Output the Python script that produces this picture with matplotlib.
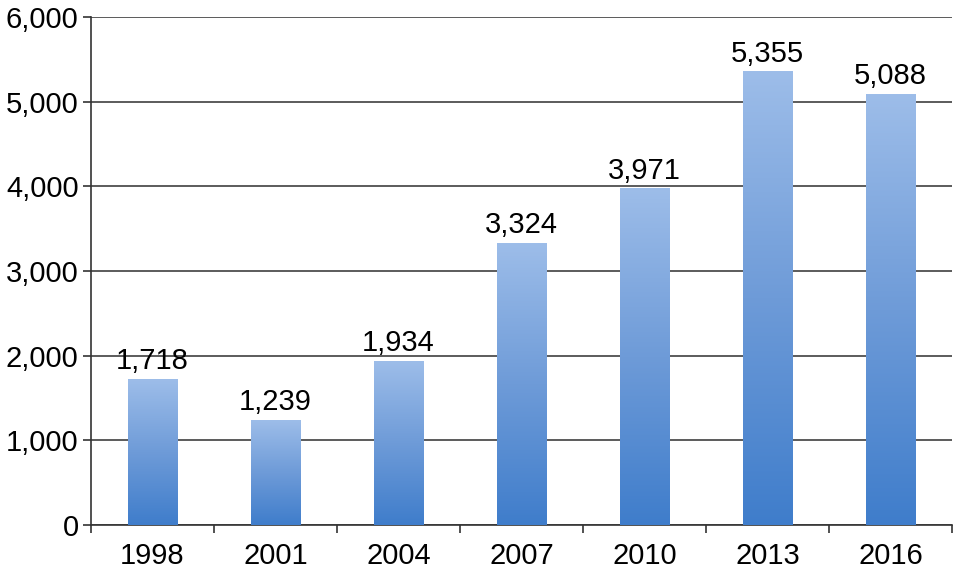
import matplotlib
matplotlib.use("Agg")
import matplotlib.pyplot as plt
import numpy as np
from matplotlib.colors import LinearSegmentedColormap

years = ["1998", "2001", "2004", "2007", "2010", "2013", "2016"]
values = [1718, 1239, 1934, 3324, 3971, 5355, 5088]
yticks = [0, 1000, 2000, 3000, 4000, 5000, 6000]

plt.rcParams['font.family'] = ['Liberation Sans', 'DejaVu Sans']

fig = plt.figure(figsize=(9.54, 5.73), dpi=100)
ax = fig.add_axes([0.0954, 0.0838, 0.9026, 0.8862])

cmap = LinearSegmentedColormap.from_list("g", ["#3F7DCB", "#6E9BD8", "#9DBDE9"])
grad = np.linspace(0, 1, 256).reshape(-1, 1)
bw = 0.4
x = np.arange(len(years))
for xi, v in zip(x, values):
    ax.imshow(grad, extent=(xi - bw / 2, xi + bw / 2, 0, v), origin="lower",
              aspect="auto", cmap=cmap, zorder=3, interpolation="bilinear")
    ax.text(xi, v + 50, f"{v:,}", ha="center", va="bottom", fontsize=21, zorder=4)

ax.set_xlim(-0.5, len(years) - 0.5)
ax.set_ylim(0, 6000)
ax.set_yticks(yticks)
ax.set_yticklabels([f"{t:,}" for t in yticks], fontsize=21)
ax.set_xticks(x)
ax.set_xticklabels(years, fontsize=21)
ax.tick_params(axis="x", length=0, pad=12)
ax.set_xticks(np.arange(-0.5, len(years), 1), minor=True)
ax.tick_params(axis="x", which="minor", length=6, width=1.2, color="#333333", direction="out")
ax.tick_params(axis="y", length=6, width=1.2, color="#333333", pad=3)

ax.yaxis.grid(True, color="#404040", linewidth=1.2, zorder=0)
ax.set_axisbelow(True)
for s in ["top", "right"]:
    ax.spines[s].set_visible(False)
for s in ["left", "bottom"]:
    ax.spines[s].set_color("#333333")
    ax.spines[s].set_linewidth(1.2)

fig.savefig("out.png", dpi=100)
